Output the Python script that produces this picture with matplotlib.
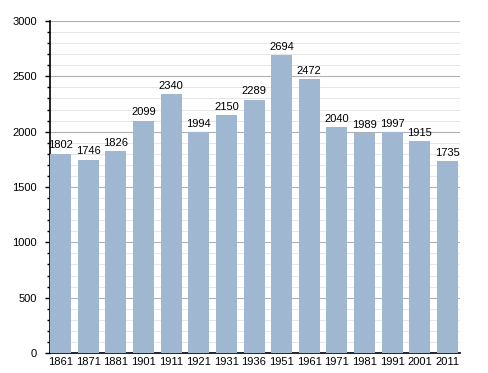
import matplotlib
matplotlib.use('Agg')
import matplotlib.pyplot as plt
from matplotlib.ticker import MultipleLocator

plt.rcParams['font.family'] = ['Liberation Sans', 'DejaVu Sans']

years = ['1861', '1871', '1881', '1901', '1911', '1921', '1931', '1936',
         '1951', '1961', '1971', '1981', '1991', '2001', '2011']
population = [1802, 1746, 1826, 2099, 2340, 1994, 2150, 2289,
              2694, 2472, 2040, 1989, 1997, 1915, 1735]

fig = plt.figure(figsize=(4.88, 3.73), dpi=100)
ax = fig.add_axes([0.1025, 0.0536, 0.840, 0.890])

x = range(len(years))
ax.bar(x, population, width=0.76, color='#9fb7d1', zorder=3)
for i, v in enumerate(population):
    ax.text(i, v + 30, str(v), ha='center', va='bottom', fontsize=8, zorder=4)

ax.set_xlim(-0.38, len(years) - 0.55)
ax.set_ylim(0, 3000)
ax.set_xticks(list(x))
ax.set_xticklabels(years, fontsize=8)
ax.tick_params(axis='x', length=0, pad=3)
ax.yaxis.set_major_locator(MultipleLocator(500))
ax.yaxis.set_minor_locator(MultipleLocator(100))
ax.tick_params(axis='y', which='major', labelsize=8, length=3.6, width=1, direction='out', pad=5.8)
ax.tick_params(axis='y', which='minor', length=2.2, width=1, direction='out')
ax.grid(axis='y', which='major', color='#b0b0b0', linewidth=0.8, zorder=0)
ax.grid(axis='y', which='minor', color='#e6e6e6', linewidth=0.7, zorder=0)

for s in ['top', 'right']:
    ax.spines[s].set_visible(False)
ax.spines['left'].set_linewidth(1.2)
ax.spines['bottom'].set_linewidth(1.2)

fig.savefig('out.png', dpi=100)
